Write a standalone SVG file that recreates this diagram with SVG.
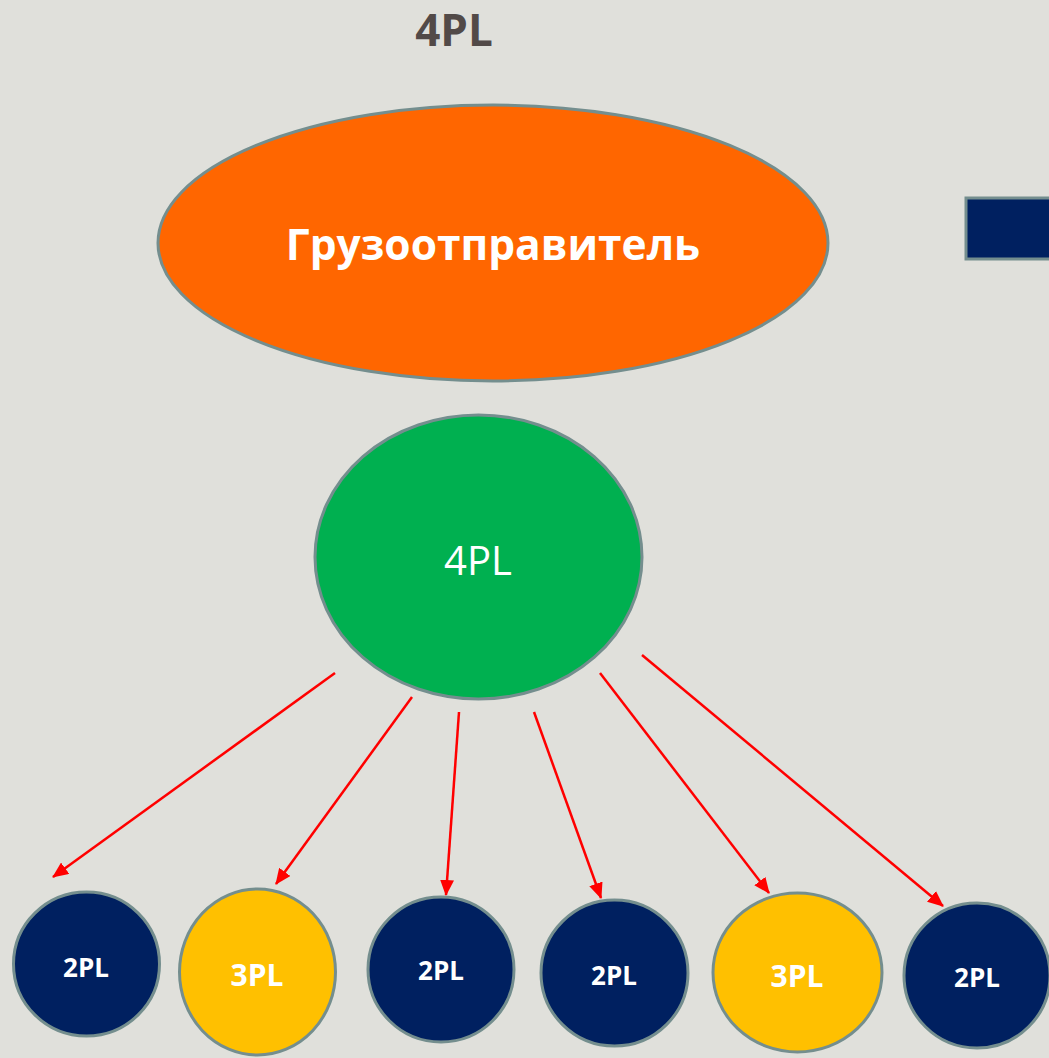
<svg xmlns="http://www.w3.org/2000/svg" width="1049" height="1058" viewBox="0 0 1049 1058">
<defs>
<style>
.node{stroke:#748E8E;stroke-width:3}
.dark{fill:#002060}
.yel{fill:#FFC000}
.lbl{font-family:"Open Sans","DejaVu Sans",sans-serif;fill:#FFFFFF;text-anchor:middle;dominant-baseline:central}
.b{font-weight:bold}
.conn line{stroke:#FF0000;stroke-width:2.5;marker-end:url(#ah)}
</style>
<marker id="ah" markerUnits="userSpaceOnUse" markerWidth="16" markerHeight="14" refX="15" refY="7" orient="auto">
<path d="M0,0 L16,7 L0,14 Z" fill="#FF0000"/>
</marker>
</defs>
<rect width="1049" height="1058" fill="#E0E0DB"/>
<text x="454" y="29" class="lbl b" style="fill:#524A48;font-size:44px">4PL</text>
<g id="rect-right"><rect x="966" y="198" width="90" height="61" class="node dark"/></g>
<g id="shipper">
<ellipse cx="493" cy="243" rx="335" ry="138" class="node" fill="#FF6600"/>
<text x="493" y="243" class="lbl b" style="font-size:42.5px">Грузоотправитель</text>
</g>
<g id="n4pl">
<ellipse cx="478.5" cy="557" rx="163.5" ry="142" class="node" fill="#00B050"/>
<text x="478" y="559" class="lbl" style="font-size:40px">4PL</text>
</g>
<g id="c1"><ellipse cx="86.5" cy="964" rx="73" ry="72" class="node dark"/><text x="86" y="967" class="lbl b" style="font-size:26px">2PL</text></g>
<g id="c2"><ellipse cx="257.5" cy="972" rx="78" ry="83" class="node yel"/><text x="257" y="974" class="lbl b" style="font-size:30px">3PL</text></g>
<g id="c3"><ellipse cx="441" cy="969.5" rx="73" ry="72.5" class="node dark"/><text x="441" y="970" class="lbl b" style="font-size:26px">2PL</text></g>
<g id="c4"><ellipse cx="614.5" cy="973" rx="73.5" ry="73" class="node dark"/><text x="614" y="975" class="lbl b" style="font-size:26px">2PL</text></g>
<g id="c5"><ellipse cx="797.5" cy="972.5" rx="84.5" ry="79.5" class="node yel"/><text x="797" y="975" class="lbl b" style="font-size:30px">3PL</text></g>
<g id="c6"><ellipse cx="977" cy="975.5" rx="73" ry="72.5" class="node dark"/><text x="977" y="977" class="lbl b" style="font-size:26px">2PL</text></g>
<g class="conn" id="connectors">
<line x1="335" y1="673" x2="53" y2="877"/>
<line x1="412" y1="697" x2="276" y2="884"/>
<line x1="459" y1="712" x2="446" y2="895"/>
<line x1="534" y1="712" x2="601" y2="898"/>
<line x1="600" y1="673" x2="769" y2="893"/>
<line x1="642" y1="655" x2="943" y2="906"/>
</g>
</svg>
